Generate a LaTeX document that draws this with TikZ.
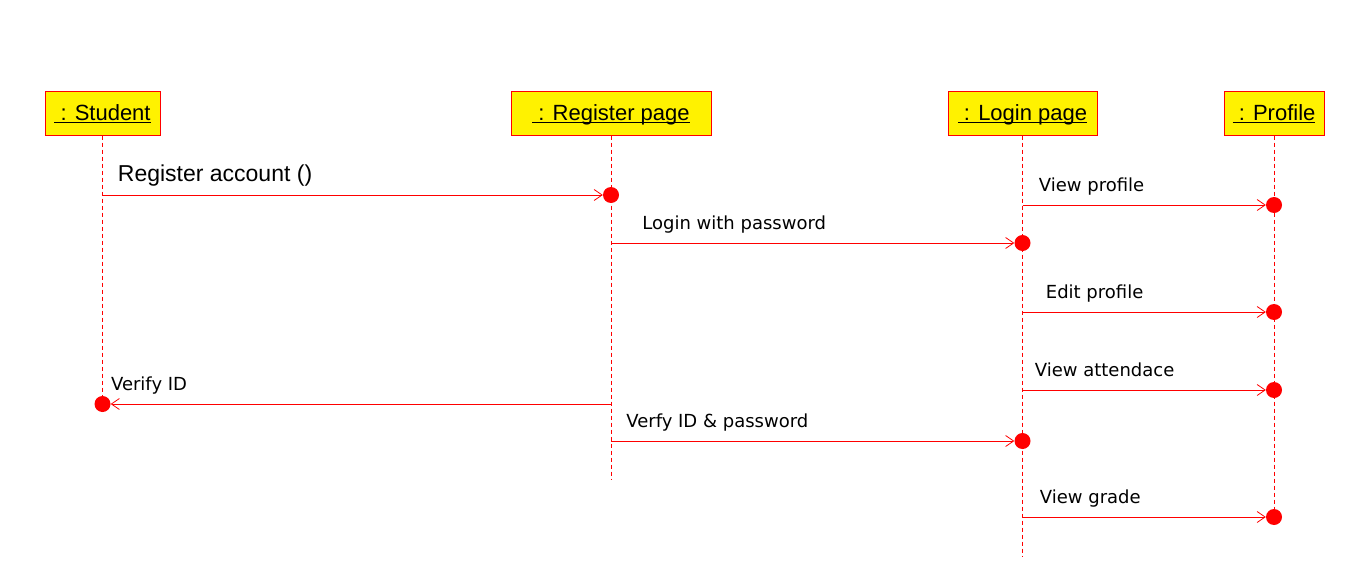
\documentclass[tikz,border=0pt]{standalone}
\usepackage{fontspec}
\setmainfont{Liberation Sans}
\newfontfamily\msgfont{DejaVu Sans}
\usetikzlibrary{arrows.meta, positioning}

\newcommand{\objname}[1]{\underline{\raisebox{0pt}[\height][0pt]{\ : #1}}}

\begin{document}
\begin{tikzpicture}[x=1pt, y=-1pt,
	obj/.style={draw=red, fill=yellow, line width=1pt, minimum height=43pt, inner sep=0pt, font=\fontsize{22}{26}\selectfont},
	life/.style={red, line width=0.8pt, dash pattern=on 4pt off 3pt},
	msg/.style={red, line width=0.8pt, -{Straight Barb[length=8pt, width=11pt, line width=0.8pt]}},
	hit/.style={circle, fill=red, minimum size=16pt, inner sep=0pt},
	lbl/.style={inner sep=0pt, anchor=base west, text=black, font=\msgfont\fontsize{18}{22}\selectfont}]
	
	\useasboundingbox (0,0) rectangle (1364,575);
	
	% Oggetti (teste delle lifeline)
	\node[obj, minimum width=115pt] (student)  at (102.5,113.5)  {\objname{Student}};
	\node[obj, minimum width=200pt] (register) at (611,113.5)    {\objname{Register page}};
	\node[obj, minimum width=149pt] (login)    at (1022.5,113.5) {\objname{Login page}};
	\node[obj, minimum width=100pt] (profile)  at (1274,113.5)   {\objname{Profile}};
	
	% Fine delle lifeline
	\coordinate (student_end)  at (102.5,404);
	\coordinate (register_end) at (611,480);
	\coordinate (login_end)    at (1022.5,557);
	\coordinate (profile_end)  at (1274,527);
	
	\foreach \o in {student, register, login, profile} {
		\draw[life] (\o.south) -- (\o_end);
	}
	
	% Punti di arrivo dei messaggi
	\node[hit] (M1_in) at (611,195) {};
	\node[hit] (M2_in) at (1022.5,243) {};
	\node[hit] (M3_in) at (1274,205) {};
	\node[hit] (M4_in) at (1274,312) {};
	\node[hit] (M5_in) at (1274,390) {};
	\node[hit] (M6_in) at (102.5,404) {};
	\node[hit] (M7_in) at (1022.5,441) {};
	\node[hit] (M8_in) at (1274,517) {};
	
	% Punti di partenza dei messaggi
	\coordinate (M1_out) at (102.5,195);
	\coordinate (M2_out) at (611,243);
	\coordinate (M3_out) at (1022.5,205);
	\coordinate (M4_out) at (1022.5,312);
	\coordinate (M5_out) at (1022.5,390);
	\coordinate (M6_out) at (611,404);
	\coordinate (M7_out) at (611,441);
	\coordinate (M8_out) at (1022.5,517);
	
	% Messaggi
	\draw[msg] (M1_out) -- node[lbl, pos=0, xshift=15pt, yshift=14pt, font=\fontsize{23}{26}\selectfont] {Register account ()} (M1_in);
	\draw[msg] (M2_out) -- node[lbl, pos=0, xshift=31pt, yshift=14pt] {Login with password} (M2_in);
	\draw[msg] (M3_out) -- node[lbl, pos=0, xshift=16pt, yshift=14pt] {View profile} (M3_in);
	\draw[msg] (M4_out) -- node[lbl, pos=0, xshift=23pt, yshift=14pt] {Edit profile} (M4_in);
	\draw[msg] (M5_out) -- node[lbl, pos=0, xshift=12pt, yshift=14pt] {View attendace} (M5_in);
	\draw[msg] (M6_out) -- node[lbl, pos=1, xshift=0pt, yshift=14pt] {Verify ID} (M6_in);
	\draw[msg] (M7_out) -- node[lbl, pos=0, xshift=15pt, yshift=14pt] {Verfy ID \& password} (M7_in);
	\draw[msg] (M8_out) -- node[lbl, pos=0, xshift=17pt, yshift=14pt] {View grade} (M8_in);
	
\end{tikzpicture}
\end{document}
